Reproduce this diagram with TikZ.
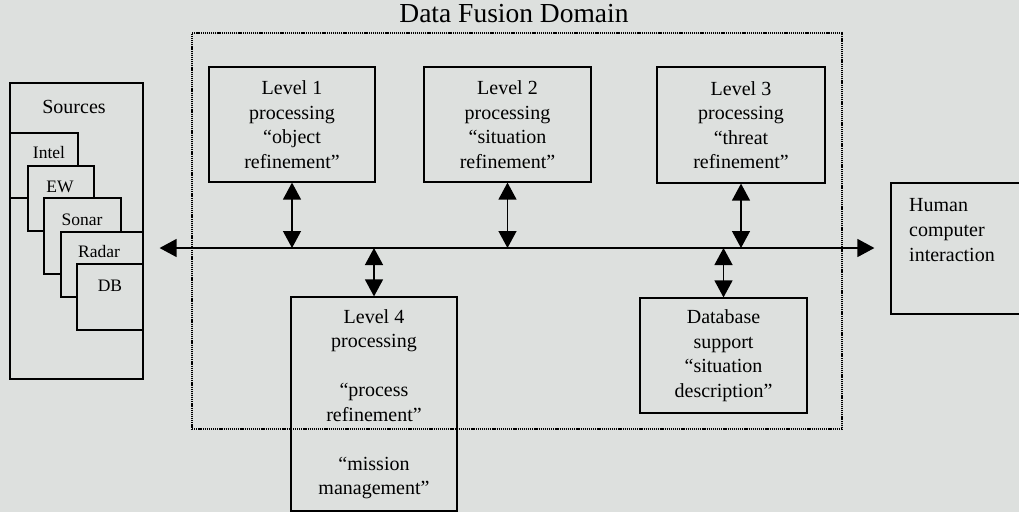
\documentclass[tikz,border=0pt]{standalone}
\usepackage{fontspec}
\setmainfont{Liberation Serif}
\usetikzlibrary{arrows.meta,calc}
\definecolor{bgc}{RGB}{221,224,222}
\begin{document}
\begin{tikzpicture}[x=1pt,y=-1pt,
  box/.style={draw=black, line width=1.2pt, fill=bgc, inner sep=0pt, align=center,
     font=\fontsize{20}{24.5}\selectfont},
  srcbox/.style={draw=black, line width=1.2pt, fill=bgc, inner sep=0pt},
  srctext/.style={font=\fontsize{17.5}{21}\selectfont, inner sep=0pt},
  domainbox/.style={draw=black, line width=1.3pt, dash pattern=on 1.2pt off 0.9pt, inner sep=0pt},
  biarrow/.style={line width=1.3pt, {Triangle[length=17pt,width=18pt]}-{Triangle[length=17pt,width=18pt]}},
  busarrow/.style={line width=1.3pt, {Triangle[length=17pt,width=18pt]}-{Triangle[length=17pt,width=18pt]}}]
\fill[bgc] (0,0) rectangle (1019,512);
\useasboundingbox (0,0) rectangle (1019,512);
\clip (0,0) rectangle (1019,512);

% Sources
\node[srcbox, minimum width=133, minimum height=296] (src) at (76.5,231) {};
\node[srctext, font=\fontsize{20}{24}\selectfont] (srcT) at (74,107) {Sources};
\node[srcbox, minimum width=68, minimum height=65] (intel) at (44,165.5) {};
\node[srctext] (intelT) at (49,153) {Intel};
\node[srcbox, minimum width=66, minimum height=65] (ew) at (61,198.5) {};
\node[srctext] (ewT) at (60,187) {EW};
\node[srcbox, minimum width=77, minimum height=76] (sonar) at (82.5,236) {};
\node[srctext] (sonarT) at (82,220) {Sonar};
\node[srcbox, minimum width=82, minimum height=65] (radar) at (102,264.5) {};
\node[srctext] (radarT) at (99,252) {Radar};
\node[srcbox, minimum width=66, minimum height=66] (db) at (110,297) {};
\node[srctext] (dbT) at (110,286) {DB};

% Processing boxes
\node[box, minimum width=166, minimum height=115] (l1) at (292,124.5)
  {Level 1\\processing\\``object\\refinement''};
\node[box, minimum width=167, minimum height=115] (l2) at (507.5,124.5)
  {Level 2\\processing\\``situation\\refinement''};
\node[box, minimum width=168, minimum height=116] (l3) at (741,125)
  {Level 3\\processing\\``threat\\refinement''};
\node[box, fill=none, minimum width=166, minimum height=214] (l4) at (374,404)
  {Level 4\\processing\\[24.5pt]``process\\refinement''\\[24.5pt]``mission\\management''};
\node[box, minimum width=167, minimum height=115] (dbs) at (723.5,355.5)
  {Database\\support\\``situation\\description''};
\node[box, minimum width=150, minimum height=131] (hci) at (966,248.5) {};
\node[anchor=west, align=left, inner sep=0pt, font=\fontsize{20}{25}\selectfont] (hciT) at (909,230)
  {Human\\computer\\interaction};

% Data fusion domain
\node[domainbox, minimum width=650, minimum height=396] (dom) at (517,231) {};
\node[inner sep=0pt, font=\fontsize{27.5}{32}\selectfont] (domT) at (514,14) {Data Fusion Domain};

% Bus
\coordinate (busL) at ([xshift=16pt]src.east |- 0,248);
\coordinate (busR) at ([xshift=-16pt]hci.west |- 0,248);
\draw[busarrow] (busL) -- (busR);
\draw[biarrow] (l1.south) -- (l1.south |- busL);
\draw[biarrow] (l2.south) -- (l2.south |- busL);
\draw[biarrow] (l3.south) -- (l3.south |- busL);
\draw[biarrow] (l4.north |- busL) -- (l4.north);
\draw[biarrow] (dbs.north |- busL) -- (dbs.north);
\end{tikzpicture}
\end{document}
